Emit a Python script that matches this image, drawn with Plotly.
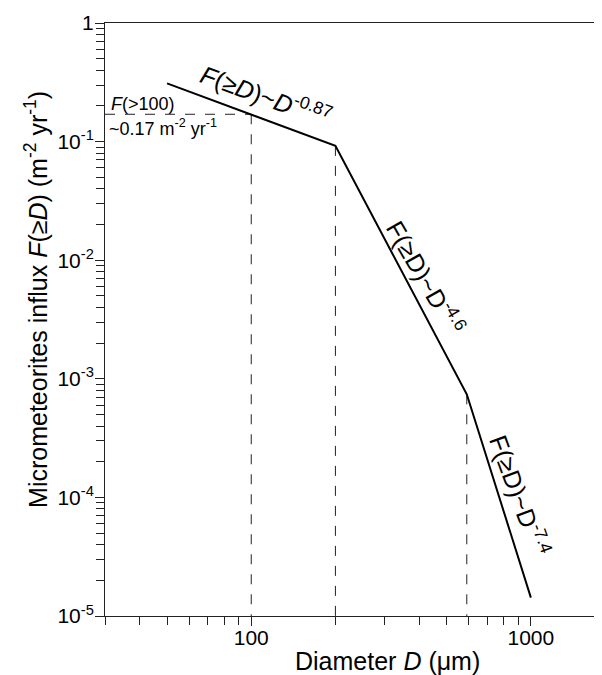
import plotly.graph_objects as go

# ---- data ----
diam_um = [50, 200, 590, 1000]
flux = [0.31, 0.092, 7.4e-4, 1.43e-5]

ref_h_D = [30, 100]
ref_h_F = [0.17, 0.17]
ref_v_D = [100, 200, 590]
ref_v_Ftop = [0.17, 0.092, 7.4e-4]
F_bottom = 1e-5

y_tickvals = [1e-5, 1e-4, 1e-3, 1e-2, 1e-1, 1]
y_ticktext = ["10<sup>-5</sup>", "10<sup>-4</sup>", "10<sup>-3</sup>",
              "10<sup>-2</sup>", "10<sup>-1</sup>", "1"]
y_minor = [m * 10 ** e for e in range(-5, 0) for m in range(2, 10)]
x_tickvals = [100, 1000]
x_ticktext = ["100", "1000"]
x_minor = [30, 40, 50, 60, 70, 80, 90, 200, 300, 400, 500, 600, 700, 800, 900, 2000]

FONT = "Liberation Sans, Arial, sans-serif"

fig = go.Figure()

# dashed reference lines
dash_style = dict(color="#222", width=1, dash="10px,10px")
fig.add_trace(go.Scatter(x=ref_h_D, y=ref_h_F, mode="lines", line=dash_style,
                         showlegend=False, hoverinfo="skip"))
for d, ft in zip(ref_v_D, ref_v_Ftop):
    fig.add_trace(go.Scatter(x=[d, d], y=[ft, F_bottom], mode="lines", line=dash_style,
                             showlegend=False, hoverinfo="skip"))

# main broken power law
fig.add_trace(go.Scatter(x=diam_um, y=flux, mode="lines",
                         line=dict(color="black", width=2), showlegend=False))

ann_font = dict(family=FONT, size=25, color="black")
fig.add_annotation(x=2.052, y=-0.607, xref="x", yref="y", showarrow=False,
                   text="<i>F</i>(≥<i>D</i>)~<i>D</i><sup>-0.87</sup>", textangle=20,
                   font=ann_font)
fig.add_annotation(x=2.625, y=-2.14, xref="x", yref="y", showarrow=False,
                   text="F(≥D)~D<sup>-4.6</sup>", textangle=60, font=ann_font)
fig.add_annotation(x=2.962, y=-3.98, xref="x", yref="y", showarrow=False,
                   text="F(≥D)~D<sup>-7.4</sup>", textangle=70, font=ann_font)
small_font = dict(family=FONT, size=18, color="black")
fig.add_annotation(x=1.49, y=-0.77, xref="x", yref="y", showarrow=False,
                   xanchor="left", yanchor="bottom", yshift=-2,
                   text="<i>F</i>(>100)", font=small_font)
fig.add_annotation(x=1.483, y=-0.77, xref="x", yref="y", showarrow=False,
                   xanchor="left", yanchor="top", yshift=0,
                   text="~0.17 m<sup>-2</sup> yr<sup>-1</sup>", font=small_font)

# axis titles
title_font = dict(family=FONT, size=25, color="black")
fig.add_annotation(x=0.560, y=-0.1029, xref="paper", yref="paper", showarrow=False,
                   xanchor="center", yanchor="bottom",
                   text="Diameter <i>D</i> (μm)", font=title_font)
fig.add_annotation(x=-0.1366, y=0.533, xref="paper", yref="paper", showarrow=False,
                   xanchor="center", yanchor="middle", textangle=-90,
                   text="Micrometeorites influx <i>F</i>(≥<i>D</i>) (m<sup>-2</sup> yr<sup>-1</sup>)",
                   font=title_font)

axis_common = dict(showgrid=False, zeroline=False, showline=True, linecolor="#222",
                   linewidth=1, ticks="outside", ticklen=9, tickcolor="#222",
                   automargin=False,
                   tickfont=dict(family=FONT, size=21, color="black"))

fig.update_xaxes(type="log", range=[1.477, 3.283], tickvals=x_tickvals, ticktext=x_ticktext,
                 mirror=True, ticklabelstandoff=-6,
                 minor=dict(tickvals=x_minor, ticks="outside", ticklen=8, tickcolor="#222"),
                 **axis_common)
fig.update_yaxes(type="log", range=[-5, 0], tickvals=y_tickvals, ticktext=y_ticktext,
                 ticklabelstandoff=-3,
                 minor=dict(tickvals=y_minor, ticks="outside", ticklen=8, tickcolor="#222"),
                 **axis_common)

fig.update_layout(width=602, height=675, margin=dict(l=97, r=0, t=15, b=67),
                  plot_bgcolor="white", paper_bgcolor="white",
                  font=dict(family=FONT, color="black"))

fig.write_html("out.html")
